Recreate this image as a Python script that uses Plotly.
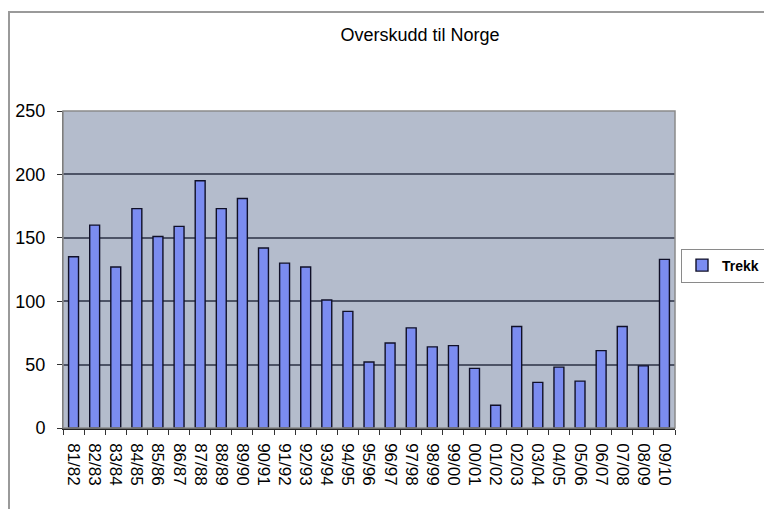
import plotly.graph_objects as go

seasons = ["81/82", "82/83", "83/84", "84/85", "85/86", "86/87", "87/88", "88/89", "89/90",
           "90/91", "91/92", "92/93", "93/94", "94/95", "95/96", "96/97", "97/98", "98/99",
           "99/00", "00/01", "01/02", "02/03", "03/04", "04/05", "05/06", "06/07", "07/08",
           "08/09", "09/10"]
trekk = [135, 160, 127, 173, 151, 159, 195, 173, 181,
         142, 130, 127, 101, 92, 52, 67, 79, 64,
         65, 47, 18, 80, 36, 48, 37, 61, 80,
         49, 133]
y_ticks = [0, 50, 100, 150, 200, 250]

W, H = 764, 509
L, R, T, B = 63, 89, 111, 81
pw, ph = W - L - R, H - T - B

def px_x(p):
    return (p - L) / pw

def px_y(p):
    return (H - B - p) / ph

FONT = "Liberation Sans, Arial, sans-serif"

fig = go.Figure()
fig.add_trace(go.Bar(
    x=seasons, y=trekk, name="Trekk",
    marker=dict(color="#7b8cf0", line=dict(color="#101028", width=1.4)),
    showlegend=True,
))

fig.update_layout(
    width=W, height=H,
    margin=dict(l=L, r=R, t=T, b=B, autoexpand=False),
    paper_bgcolor="white",
    plot_bgcolor="#b4bccc",
    bargap=0.53,
    font=dict(family=FONT, size=16, color="black"),
    title=dict(text="Overskudd til Norge", x=420 / W, xref="container",
               xanchor="center", y=1 - 35 / H, yref="container", yanchor="middle",
               font=dict(family=FONT, size=18, color="black")),
    showlegend=True,
    legend=dict(
        x=px_x(681), xanchor="left", y=px_y(265.5), yanchor="middle",
        bgcolor="white", bordercolor="#8a8a8a", borderwidth=1,
        font=dict(family=FONT, size=14, color="black", weight="bold"),
        itemwidth=30,
    ),
    xaxis=dict(
        type="category", tickangle=90, tickson="boundaries",
        tickmode="array", tickvals=seasons, ticktext=seasons,
        ticks="outside", ticklen=5, tickcolor="#333333",
        ticklabelstandoff=10,
        showline=True, linecolor="#222222", linewidth=1.5,
        showgrid=False, tickfont=dict(family=FONT, size=17, color="black"),
        range=[-0.5, len(seasons) - 0.5],
    ),
    yaxis=dict(
        range=[0, 250], tickvals=y_ticks, ticktext=[str(v) for v in y_ticks],
        ticks="outside", ticklen=5, tickcolor="#333333",
        ticklabelstandoff=8,
        showline=True, linecolor="#555555", linewidth=1,
        showgrid=True, gridcolor="#4d5366", gridwidth=1.5,
        zeroline=False, tickfont=dict(family=FONT, size=18, color="black"),
    ),
)

# plot area border (top/right) and outer chart frame
fig.add_shape(type="rect", xref="paper", yref="paper", x0=0, x1=1, y0=0, y1=1,
              line=dict(color="#8a8a8a", width=1.5), layer="above")
fig.add_shape(type="rect", xref="paper", yref="paper",
              x0=px_x(9), x1=px_x(W + 40), y0=px_y(H + 40), y1=px_y(12),
              line=dict(color="#9a9a9a", width=2), layer="below")

fig.write_html("out.html", config={"displayModeBar": False},
               post_script="document.body.style.margin='0';")
